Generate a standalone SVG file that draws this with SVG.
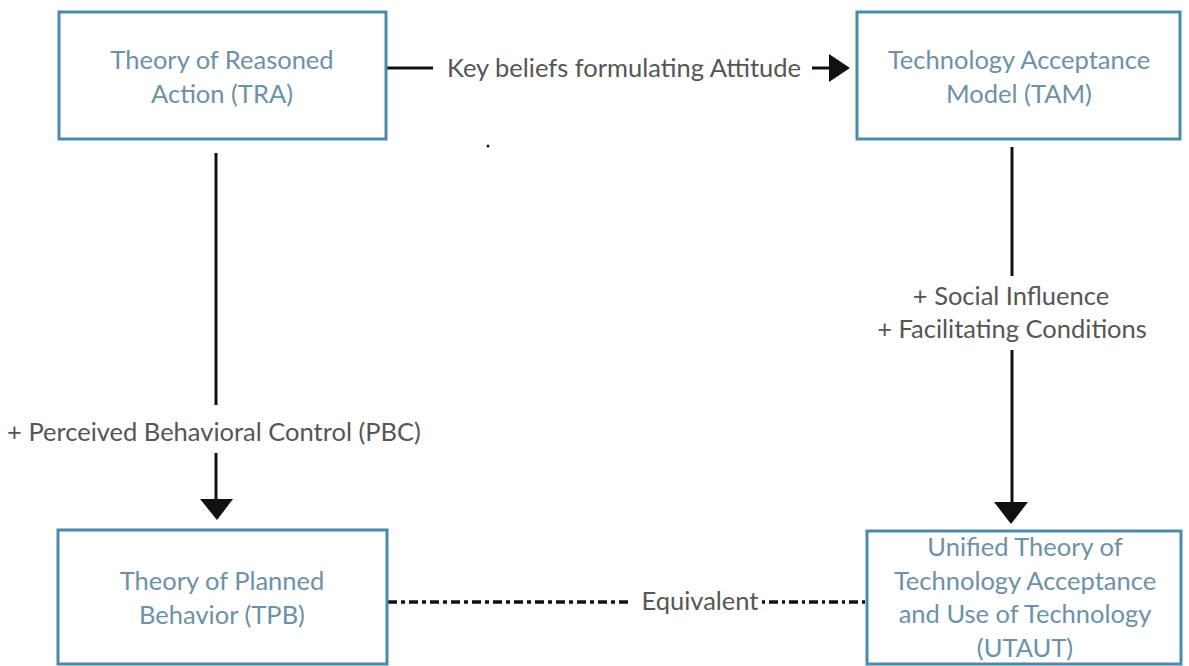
<svg xmlns="http://www.w3.org/2000/svg" width="1189" height="666" viewBox="0 0 1189 666">
<style>
.box{fill:#fff;stroke:#4a8aab;stroke-width:3}
.nt{font-family:Lato,"Open Sans",sans-serif;font-size:25.5px;fill:#6c91a8;text-anchor:middle}
.lb{font-family:Lato,"Open Sans",sans-serif;font-size:25.5px;fill:#555;text-anchor:middle}
.ln{stroke:#111;stroke-width:3;fill:none}
.dl{stroke:#111;stroke-width:3.5;fill:none}
.ah{fill:#111}
</style>
<rect width="1189" height="666" fill="#fff"/>
<g id="connectors">
<line class="ln" x1="386" y1="68" x2="433" y2="68"/>
<line class="ln" x1="812" y1="68" x2="834" y2="68"/>
<polygon class="ah" points="829,54 850,68 829,82"/>
<line class="ln" x1="216" y1="153" x2="216" y2="405"/>
<line class="ln" x1="216" y1="453" x2="216" y2="502"/>
<polygon class="ah" points="200,499 233,499 217,520"/>
<line class="ln" x1="1012" y1="147" x2="1012" y2="276"/>
<line class="ln" x1="1012" y1="350" x2="1012" y2="505"/>
<polygon class="ah" points="994,502 1028,502 1011,524"/>
<line class="dl" x1="388" y1="602" x2="630" y2="602" stroke-dasharray="9 4 4 4"/>
<line class="dl" x1="762" y1="602" x2="866" y2="602" stroke-dasharray="3 4 9 4"/>
<text class="lb" x="624" y="77">Key beliefs formulating Attitude</text>
<text class="lb" x="214" y="441">+ Perceived Behavioral Control (PBC)</text>
<text class="lb" x="1011" y="305">+ Social Influence</text>
<text class="lb" x="1012" y="338">+ Facilitating Conditions</text>
<text class="lb" x="700" y="610">Equivalent</text>
<circle cx="488" cy="146" r="1.5" fill="#111"/>
</g>
<g id="tra">
<rect class="box" x="59" y="12" width="327" height="127"/>
<text class="nt" x="222" y="69">Theory of Reasoned</text>
<text class="nt" x="222" y="103">Action (TRA)</text>
</g>
<g id="tam">
<rect class="box" x="857" y="12" width="323" height="127"/>
<text class="nt" x="1019" y="69">Technology Acceptance</text>
<text class="nt" x="1019" y="103">Model (TAM)</text>
</g>
<g id="tpb">
<rect class="box" x="58" y="530" width="329" height="134"/>
<text class="nt" x="222" y="590">Theory of Planned</text>
<text class="nt" x="222" y="624">Behavior (TPB)</text>
</g>
<g id="utaut">
<rect class="box" x="867" y="531" width="314" height="133"/>
<text class="nt" x="1025" y="556">Unified Theory of</text>
<text class="nt" x="1025" y="590">Technology Acceptance</text>
<text class="nt" x="1025" y="623">and Use of Technology</text>
<text class="nt" x="1025" y="657">(UTAUT)</text>
</g>
</svg>
